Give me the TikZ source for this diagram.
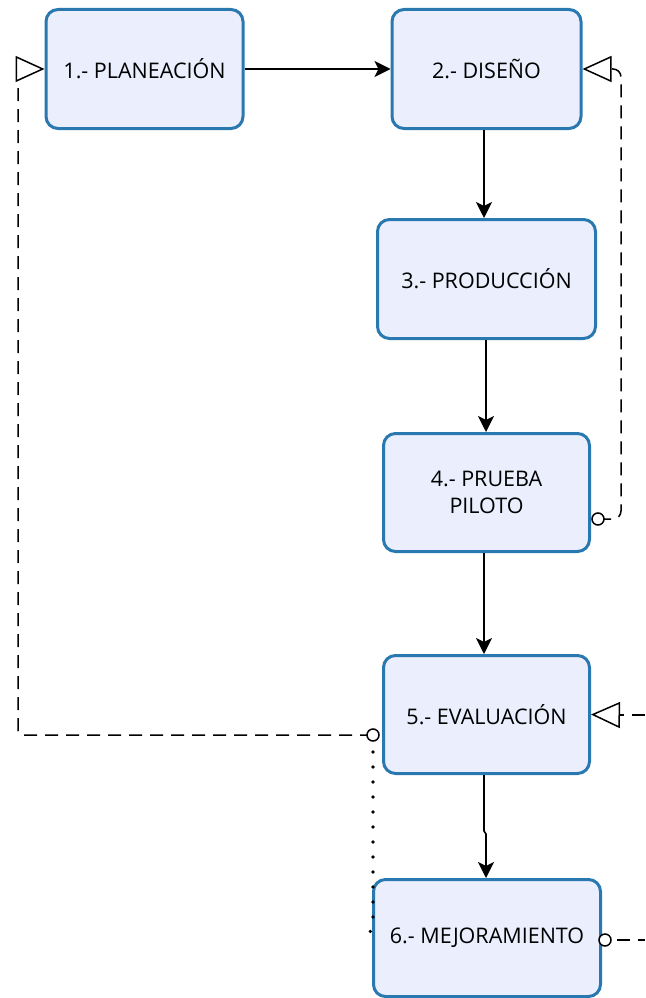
\documentclass[tikz,border=0pt]{standalone}
\usepackage{fontspec}
\setmainfont{Open Sans}
\usetikzlibrary{arrows.meta}
\definecolor{boxfill}{HTML}{EAEEFD}
\definecolor{boxline}{HTML}{2A78B0}
\tikzset{
  stepbox/.style={draw=boxline, fill=boxfill, line width=3pt, rounded corners=12pt,
    inner sep=0pt, align=center, font=\fontsize{21.5}{27}\selectfont},
  flow/.style={line width=1.6pt, -{Stealth[length=16pt,width=16pt,inset=4pt]}},
  backlink/.style={line width=1.5pt, dash pattern=on 13pt off 8pt},
  dotlink/.style={line width=3.6pt, line cap=round, dash pattern=on 0pt off 15pt},
  opentip/.style={line width=1.5pt, -{Triangle[open, length=29pt, width=26pt]}},
  ring/.style={circle, draw, line width=1.5pt, fill=white, minimum size=12pt, inner sep=0pt}
}
\begin{document}
\begin{tikzpicture}[x=1pt, y=-1pt]
\useasboundingbox (0,0) rectangle (645,998);

% process boxes
\node[stepbox, minimum width=197pt, minimum height=119pt] (p1) at (144.5,69) {1.- PLANEACIÓN};
\node[stepbox, minimum width=189pt, minimum height=119pt] (p2) at (486.5,69) {2.- DISEÑO};
\node[stepbox, minimum width=218pt, minimum height=119pt] (p3) at (486.5,279) {3.- PRODUCCIÓN};
\node[stepbox, minimum width=206pt, minimum height=118pt] (p4) at (486.5,492.5) {4.- PRUEBA\\PILOTO};
\node[stepbox, minimum width=206pt, minimum height=118pt] (p5) at (486.5,714.5) {5.- EVALUACIÓN};
\node[stepbox, minimum width=227pt, minimum height=117pt] (p6) at (487,938) {6.- MEJORAMIENTO};

% main flow
\draw[flow] (p1.east) -- (p2.west);
\draw[flow] (p2.south -| 484,0) -- (p3.north -| 484,0);
\draw[flow] (p3.south -| 486,0) -- (p4.north -| 486,0);
\draw[flow] (p4.south -| 484,0) -- (p5.north -| 484,0);
\draw[flow] (p5.south -| 484,0) -- (484,831) -- (486,834) -- (p6.north -| 486,0);

% feedback from the pilot test back to the design
\coordinate (c4) at (598,519);
\draw[backlink, rounded corners=8pt, -{Triangle[open, length=29pt, width=26pt]}]
  (c4) -- (621,519) -- (621,69) -- (p2.east);
\node[ring] (r4) at (c4) {};

% feedback from the evaluation back to the planning
\coordinate (c5) at (373,735);
\coordinate (k1) at (18,82);
\draw[backlink, rounded corners=4pt] (c5) -- (18,735) -- (k1);
\draw[opentip] (16.5,69) -- (p1.west);

% dotted link from the evaluation down to the improvement box
\draw[dotlink] (c5) ++(0,17) -- (373,926) -- (367,938);
\node[ring] (r5) at (c5) {};

% incoming link on the evaluation box
\coordinate (e5) at (645,715);
\draw[backlink] (e5) -- (620,715);
\draw[opentip] (620,715) -- (p5.east);

% outgoing link from the improvement box
\node[ring] (r6) at (605,940) {};
\coordinate (e6) at (645,940);
\draw[backlink] (r6.east) ++(5,0) -- (e6);
\end{tikzpicture}
\end{document}
